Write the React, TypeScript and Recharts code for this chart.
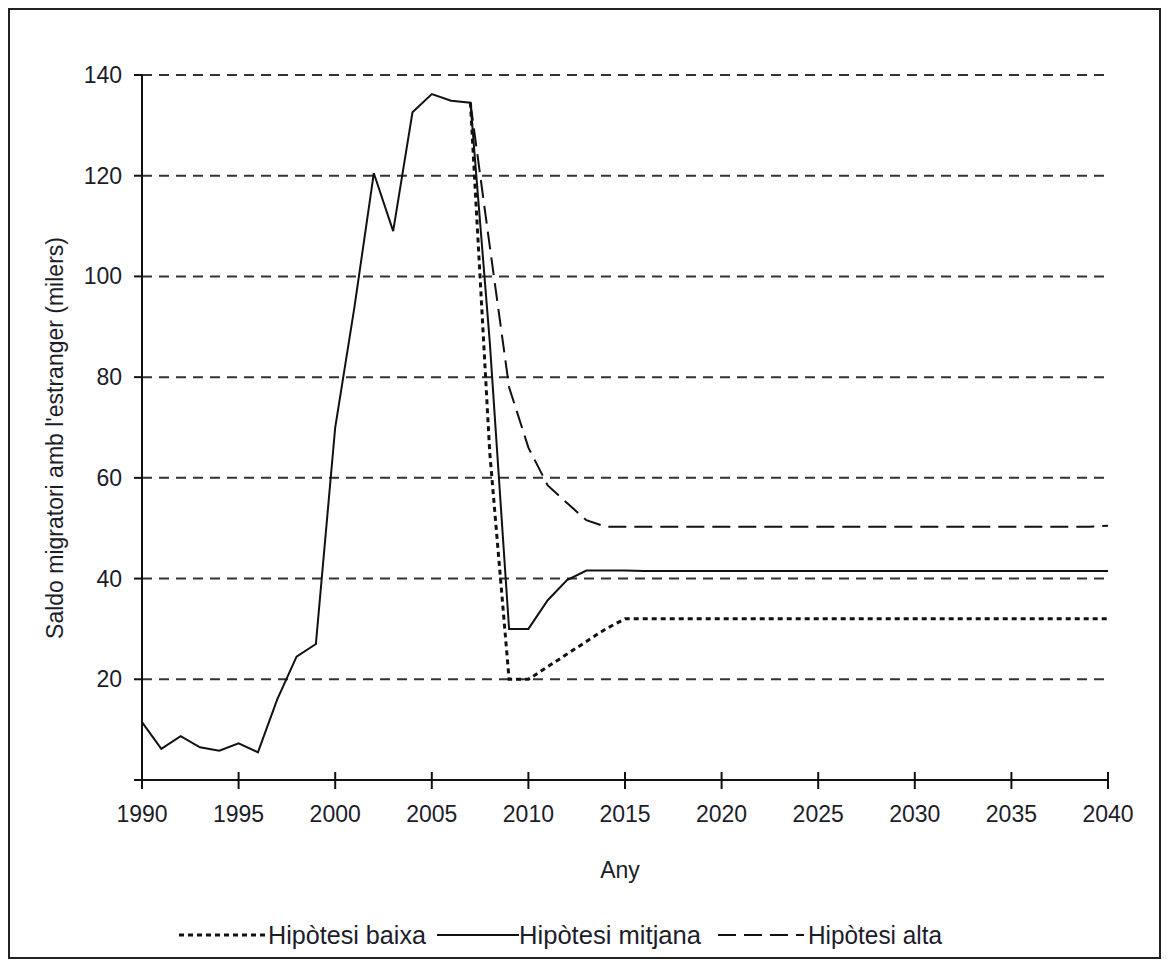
import React from 'react';
import { LineChart, Line, XAxis, YAxis, CartesianGrid } from 'recharts';

const years = [
  1990, 1991, 1992, 1993, 1994, 1995, 1996, 1997, 1998, 1999,
  2000, 2001, 2002, 2003, 2004, 2005, 2006, 2007, 2008, 2009,
  2010, 2011, 2012, 2013, 2014, 2015, 2016, 2017, 2018, 2019,
  2020, 2021, 2022, 2023, 2024, 2025, 2026, 2027, 2028, 2029,
  2030, 2031, 2032, 2033, 2034, 2035, 2036, 2037, 2038, 2039, 2040,
];

const mitjana = [
  11.5, 6.2, 8.7, 6.5, 5.8, 7.3, 5.5, 16, 24.5, 27,
  70, 94, 120.5, 109, 132.6, 136.2, 134.9, 134.5, 87, 30,
  30, 35.7, 39.7, 41.6, 41.6, 41.6, 41.5, 41.5, 41.5, 41.5,
  41.5, 41.5, 41.5, 41.5, 41.5, 41.5, 41.5, 41.5, 41.5, 41.5,
  41.5, 41.5, 41.5, 41.5, 41.5, 41.5, 41.5, 41.5, 41.5, 41.5, 41.5,
];

const baixa = [
  null, null, null, null, null, null, null, null, null, null,
  null, null, null, null, null, null, null, 134.5, 65, 20,
  20, 22.5, 25, 27.5, 30, 32, 32, 32, 32, 32,
  32, 32, 32, 32, 32, 32, 32, 32, 32, 32,
  32, 32, 32, 32, 32, 32, 32, 32, 32, 32, 32,
];

const alta = [
  null, null, null, null, null, null, null, null, null, null,
  null, null, null, null, null, null, null, 134.5, 106, 78,
  66, 58.5, 55, 51.6, 50.3, 50.3, 50.3, 50.3, 50.3, 50.3,
  50.3, 50.3, 50.3, 50.3, 50.3, 50.3, 50.3, 50.3, 50.3, 50.3,
  50.3, 50.3, 50.3, 50.3, 50.3, 50.3, 50.3, 50.3, 50.3, 50.3, 50.5,
];

const xTicks = [1990, 1995, 2000, 2005, 2010, 2015, 2020, 2025, 2030, 2035, 2040];
const yTicks = [0, 20, 40, 60, 80, 100, 120, 140];

const seriesNames = {
  baixa: 'Hipòtesi baixa',
  mitjana: 'Hipòtesi mitjana',
  alta: 'Hipòtesi alta',
};
const xTitle = 'Any';
const yTitle = "Saldo migratori amb l'estranger (milers)";

const data = years.map((year, i) => ({
  year,
  mitjana: mitjana[i],
  baixa: baixa[i],
  alta: alta[i],
}));

const FONT = 'Liberation Sans, Arial, sans-serif';
const TEXT = '#1c1c2a';
const LINE = '#111';

const STYLE_BAIXA = { strokeDasharray: '5 4', strokeWidth: 3 };
const STYLE_MITJANA = { strokeDasharray: undefined as any, strokeWidth: 2 };
const STYLE_ALTA = { strokeDasharray: '18 8', strokeWidth: 2 };

const XTick = (props: any) => {
  const { x, y, payload } = props;
  return (
    <g>
      <line x1={x} x2={x} y1={y - 21} y2={y - 13} stroke={LINE} strokeWidth={2} />
      <text x={x} y={y + 29} textAnchor="middle" fontFamily={FONT} fontSize={23} fill={TEXT}>
        {payload.value}
      </text>
    </g>
  );
};

const YTick = (props: any) => {
  const { x, y, payload } = props;
  if (payload.value === 0) return <g />;
  return (
    <text x={x} y={y} dy={8} textAnchor="end" fontFamily={FONT} fontSize={23} fill={TEXT}>
      {payload.value}
    </text>
  );
};

const YTitle = () => (
  <text
    x={45}
    y={428}
    transform="rotate(-90, 45, 428)"
    textAnchor="middle"
    dy={8}
    fontFamily={FONT}
    fontSize={23}
    fill={TEXT}
  >
    {yTitle}
  </text>
);

const XTitleAndLegend = () => {
  const ly = 925;
  const ty = 934;
  return (
    <g>
      <text x={610} y={868} textAnchor="middle" fontFamily={FONT} fontSize={23} fill={TEXT}>
        {xTitle}
      </text>
      <line x1={169} x2={256} y1={ly} y2={ly} stroke={LINE} {...STYLE_BAIXA} />
      <text x={258} y={ty} fontFamily={FONT} fontSize={25} fill={TEXT} textLength={158} lengthAdjust="spacingAndGlyphs">
        {seriesNames.baixa}
      </text>
      <line x1={427} x2={509} y1={ly} y2={ly} stroke={LINE} strokeWidth={2} />
      <text x={509} y={ty} fontFamily={FONT} fontSize={25} fill={TEXT} textLength={182} lengthAdjust="spacingAndGlyphs">
        {seriesNames.mitjana}
      </text>
      <line x1={708} x2={794} y1={ly} y2={ly} stroke={LINE} {...STYLE_ALTA} />
      <text x={798} y={ty} fontFamily={FONT} fontSize={25} fill={TEXT} textLength={134} lengthAdjust="spacingAndGlyphs">
        {seriesNames.alta}
      </text>
    </g>
  );
};

export default function App() {
  return (
    <div
      style={{
        width: 1153,
        height: 951,
        border: '2px solid #222',
        boxSizing: 'border-box',
        background: '#fff',
      }}
    >
      <LineChart
        width={1149}
        height={947}
        data={data}
        margin={{ top: 65, right: 51, left: 52, bottom: 117 }}
      >
        <CartesianGrid
          horizontal={true}
          vertical={false}
          stroke="#333"
          strokeWidth={2}
          strokeDasharray="10 7"
        />
        <XAxis
          dataKey="year"
          type="number"
          domain={[1990, 2040]}
          ticks={xTicks}
          interval={0}
          height={60}
          tickSize={9}
          tickMargin={4}
          axisLine={{ stroke: LINE, strokeWidth: 2 }}
          tickLine={{ stroke: LINE, strokeWidth: 2 }}
          tick={<XTick />}
          label={<XTitleAndLegend />}
        />
        <YAxis
          type="number"
          domain={[0, 140]}
          ticks={yTicks}
          interval={0}
          width={80}
          tickSize={8}
          tickMargin={12}
          axisLine={{ stroke: LINE, strokeWidth: 2 }}
          tickLine={{ stroke: LINE, strokeWidth: 2 }}
          tick={<YTick />}
          label={<YTitle />}
        />
        <Line
          dataKey="alta"
          type="linear"
          stroke={LINE}
          {...STYLE_ALTA}
          dot={false}
          isAnimationActive={false}
          connectNulls={false}
        />
        <Line
          dataKey="baixa"
          type="linear"
          stroke={LINE}
          {...STYLE_BAIXA}
          dot={false}
          isAnimationActive={false}
          connectNulls={false}
        />
        <Line
          dataKey="mitjana"
          type="linear"
          stroke={LINE}
          strokeWidth={2}
          dot={false}
          isAnimationActive={false}
        />
      </LineChart>
    </div>
  );
}
